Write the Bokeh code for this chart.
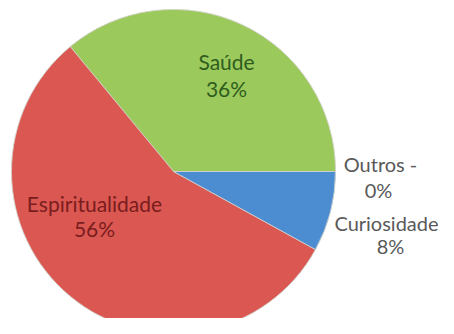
import math
from bokeh.plotting import figure
from bokeh.models import Range1d, ColumnDataSource
from bokeh.core.properties import value
from bokeh.embed import file_html
from bokeh.resources import INLINE

# ---- data ----
categories = ["Outros", "Saúde", "Espiritualidade", "Curiosidade"]
values = [0, 36, 56, 8]
label_names = ["Outros -", "Saúde", "Espiritualidade", "Curiosidade"]

# ---- styles / layout ----
colors = ["#7f7f7f", "#9BC95B", "#DA5752", "#4C8DD2"]
label_colors = ["#595959", "#2F5D1D", "#7A1D1D", "#595959"]
label_sizes = ["20px", "21px", "21px", "20px"]
W, H = 438, 318
cx, cy, r = 173, H - 171, 162
# label line centres in picture pixels from top-left (name line, pct line)
label_pos = [((380, 163), (378, 189)),
             ((226, 61), (226, 88)),
             ((94, 203), (94, 228)),
             ((386, 222), (390, 245))]

p = figure(width=W, height=H, output_backend="svg", toolbar_location=None,
           x_range=Range1d(0, W), y_range=Range1d(0, H), min_border=0)
p.axis.visible = False
p.grid.visible = False
p.outline_line_color = None
p.background_fill_color = "white"
p.border_fill_color = "white"

total = float(sum(values))
starts, ends = [], []
acc = 0.0
for v in values:
    starts.append(2 * math.pi * acc / total)
    acc += v
    ends.append(2 * math.pi * acc / total)

src = ColumnDataSource(dict(start=starts, end=ends, color=colors, cat=categories))
p.wedge(x=cx, y=cy, radius=r, start_angle="start", end_angle="end",
        fill_color="color", line_color="#d8d8d0", line_width=0.8, source=src)

tx, ty, tt, tc, ts = [], [], [], [], []
for name, v, pos, col, sz in zip(label_names, values, label_pos, label_colors, label_sizes):
    (x1, y1), (x2, y2) = pos
    tx += [x1, x2]
    ty += [H - y1, H - y2]
    tt += [name, f"{v}%"]
    tc += [col, col]
    ts += [sz, sz]

tsrc = ColumnDataSource(dict(x=tx, y=ty, text=tt, color=tc, size=ts))
p.text(x="x", y="y", text="text", text_color="color", text_font=value("Lato"),
       text_font_size="size", text_align="center", text_baseline="middle",
       source=tsrc)

open("out.html", "w").write(file_html(p, INLINE))
